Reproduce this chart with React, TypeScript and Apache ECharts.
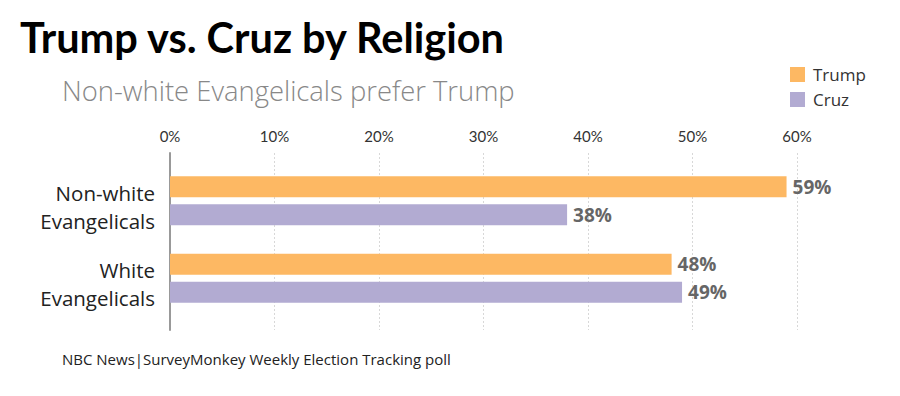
import React, { useEffect, useRef } from "react";
import * as echarts from "echarts";

const categories = ["Non-white\nEvangelicals", "White\nEvangelicals"];
const trumpValues = [59, 48];
const cruzValues = [38, 49];
const seriesNames = ["Trump", "Cruz"];
const xTicks = [0, 10, 20, 30, 40, 50, 60];

const LATO = "Lato, 'Open Sans', sans-serif";
const OPEN = "'Open Sans', Lato, sans-serif";

export default function App() {
  const ref = useRef<HTMLDivElement>(null);
  useEffect(() => {
    if (!ref.current) return;
    const chart = echarts.init(ref.current, undefined, { renderer: "svg" });
    const labelStyle = {
      show: true,
      position: "right" as const,
      distance: 6,
      formatter: (p: any) => p.value + "%",
      color: "#666",
      fontWeight: "bold" as const,
      fontSize: 19,
      fontFamily: OPEN,
    };
    chart.setOption({
      animation: false,
      backgroundColor: "#fff",
      textStyle: { fontFamily: OPEN },
      title: [
        {
          text: "Trump vs. Cruz by Religion",
          left: 15,
          top: 11,
          textStyle: { fontSize: 41.5, fontWeight: "bold", color: "#000", fontFamily: LATO },
        },
        {
          text: "Non-white Evangelicals prefer Trump",
          left: 57,
          top: 72,
          textStyle: { fontSize: 27.4, fontWeight: 300, color: "#888", fontFamily: OPEN },
        },
        {
          text: "NBC News|SurveyMonkey Weekly Election Tracking poll",
          left: 57,
          top: 346,
          textStyle: { fontSize: 15, fontWeight: "normal", color: "#222", fontFamily: OPEN },
        },
      ],
      legend: {
        data: seriesNames,
        orient: "vertical",
        left: 785,
        top: 61,
        itemWidth: 15,
        itemHeight: 15,
        itemGap: 8,
        icon: "rect",
        textStyle: { fontSize: 17, color: "#333", fontFamily: OPEN, padding: [0, 0, 0, 3] },
      },
      grid: [
        { left: 170, width: 627, top: 162, height: 155 },
        { left: 170, width: 627, top: 153, height: 177 },
        { left: 170, width: 627, top: 168, height: 155 },
      ],
      xAxis: [
        {
          gridIndex: 0,
          type: "value",
          min: 0,
          max: 60,
          interval: 10,
          show: false,
        },
        {
          gridIndex: 1,
          type: "value",
          position: "top",
          min: xTicks[0],
          max: xTicks[xTicks.length - 1],
          interval: 10,
          axisLine: { show: false },
          axisTick: { show: false },
          axisLabel: {
            formatter: (v: number) => v + "%",
            fontSize: 15,
            color: "#333",
            margin: 10,
            fontFamily: LATO,
          },
          splitLine: { show: true, lineStyle: { color: "#d8d8d8", type: [2, 2], width: 1 } },
        },
        {
          gridIndex: 2,
          type: "value",
          min: 0,
          max: 60,
          interval: 10,
          show: false,
        },
      ],
      yAxis: [
        {
          gridIndex: 0,
          type: "category",
          data: categories,
          inverse: true,
          axisLine: { show: false },
          axisTick: { show: false },
          axisLabel: { show: false },
        },
        {
          gridIndex: 1,
          type: "category",
          data: [""],
          axisLine: { show: true, onZero: false, lineStyle: { color: "#999", width: 2 } },
          axisTick: { show: false },
          axisLabel: { show: false },
        },
        {
          gridIndex: 2,
          type: "category",
          data: categories,
          inverse: true,
          axisLine: { show: false },
          axisTick: { show: false },
          axisLabel: {
            fontSize: 20.5,
            lineHeight: 28,
            color: "#222",
            margin: 15,
            align: "right",
            fontFamily: OPEN,
          },
        },
      ],
      series: [
        {
          name: seriesNames[0],
          type: "bar",
          xAxisIndex: 0,
          yAxisIndex: 0,
          data: trumpValues,
          barWidth: 21,
          barGap: "33%",
          itemStyle: { color: "#FDB863" },
          label: labelStyle,
        },
        {
          name: seriesNames[1],
          type: "bar",
          xAxisIndex: 0,
          yAxisIndex: 0,
          data: cruzValues,
          barWidth: 21,
          barGap: "33%",
          itemStyle: { color: "#B2ABD2" },
          label: labelStyle,
        },
      ],
    });
    return () => chart.dispose();
  }, []);
  return <div ref={ref} style={{ width: 900, height: 396, margin: -8 }} />;
}
